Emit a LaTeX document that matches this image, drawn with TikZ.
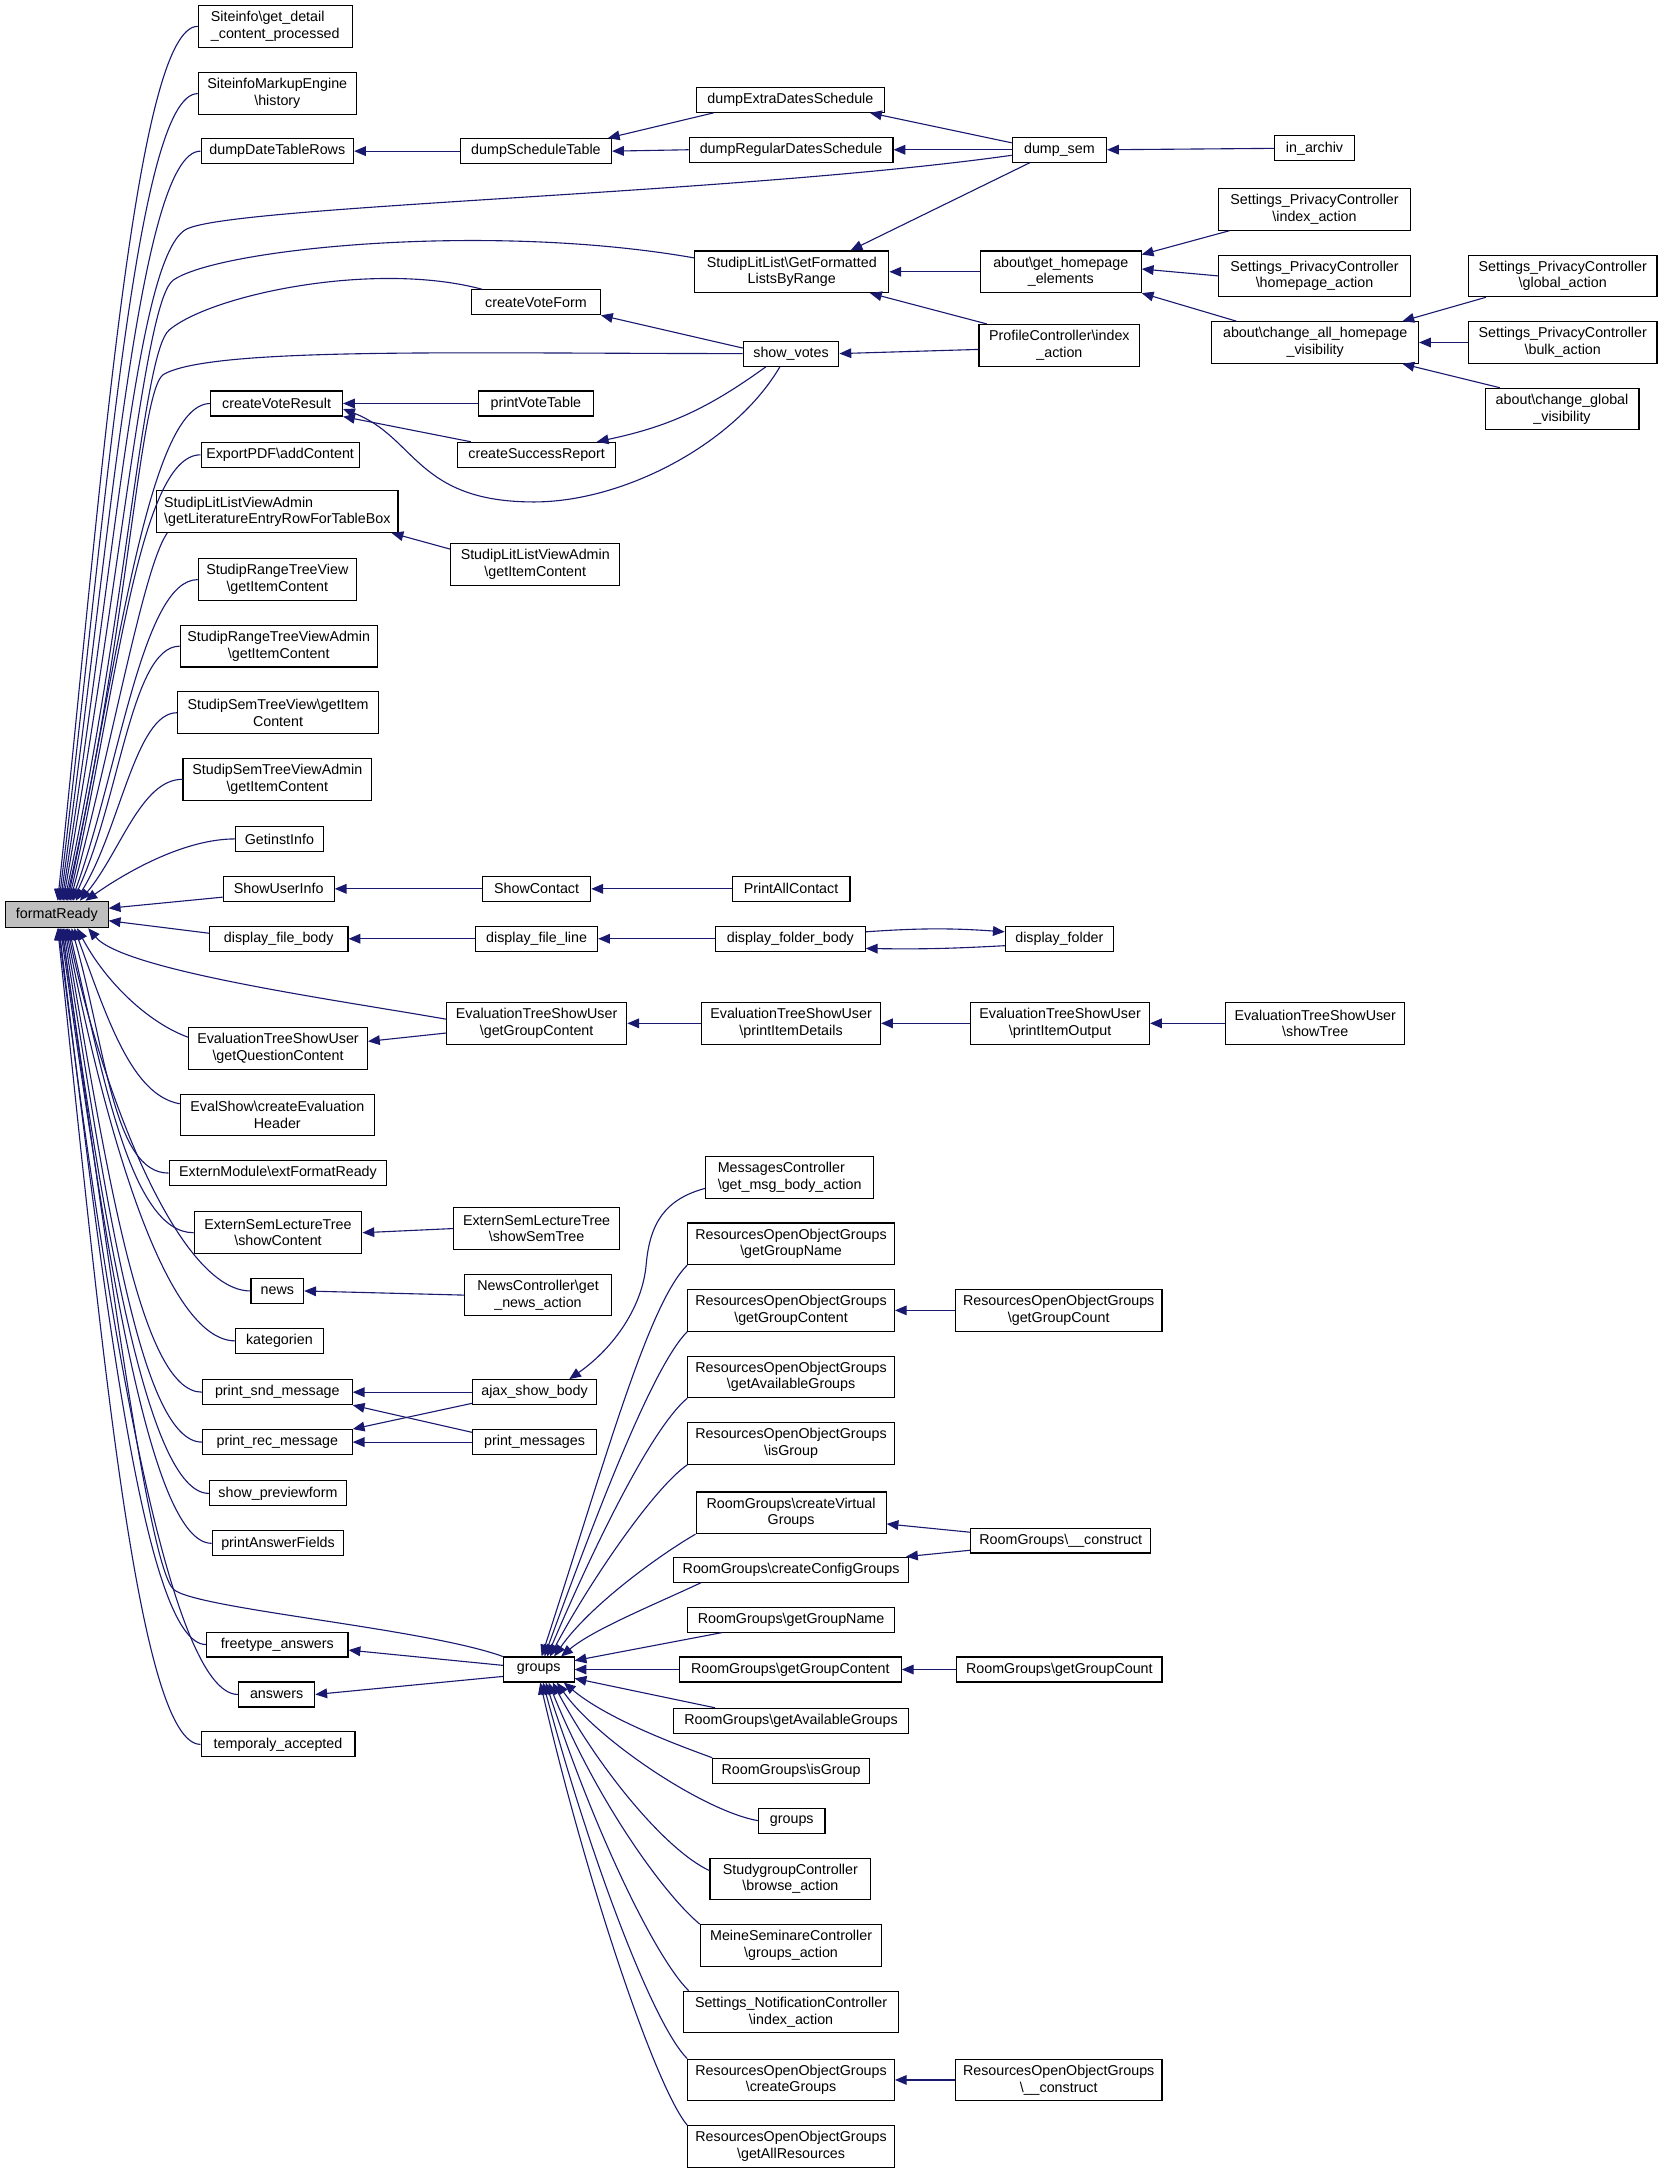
\documentclass[tikz,border=0pt]{standalone}
\usepackage{fontspec}
\setmainfont{Liberation Sans}
\usetikzlibrary{arrows.meta}
\definecolor{edgec}{RGB}{25,25,112}
\definecolor{frgray}{RGB}{191,191,191}
\tikzset{
  box/.style={draw=black, fill=white, line width=0.8pt, inner sep=1pt, align=center,
    font=\fontsize{10.3}{12}\selectfont},
  cb/.style={draw=edgec, line width=0.8pt, {Triangle[length=8.5pt,width=7pt]}-}
}
\newcommand\bx[6]{\node[box,minimum width=#4pt,minimum height=#5pt] (#1) at (#2,-#3) {#6};}
\newcommand\bxl[6]{\node[box,align=left,minimum width=#4pt,minimum height=#5pt] (#1) at (#2,-#3) {#6};}
\begin{document}
\begin{tikzpicture}[x=1pt,y=1pt]
\useasboundingbox (0,0) rectangle (1200,-1570);
\fill[white] (0,0) rectangle (1200,-1570);
% ---------- nodes ----------
\node[box,fill=frgray,minimum width=74pt,minimum height=19pt] (fr) at (41,-659.5) {formatReady};
% left column
\bxl{sc}{198.5}{19}{111}{30}{Siteinfo\textbackslash get\_detail\\\_content\_processed}
\bx{smh}{200}{67.5}{114}{30}{SiteinfoMarkupEngine\\\textbackslash history}
\bx{ddtr}{200}{109}{110}{18}{dumpDateTableRows}
\bx{cvr}{199.5}{291}{95}{18}{createVoteResult}
\bx{epdf}{202}{328}{114}{18}{ExportPDF\textbackslash addContent}
\bxl{sllva}{200}{369}{174}{30}{StudipLitListViewAdmin\\\textbackslash getLiteratureEntryRowForTableBox}
\bx{srtv}{200}{418}{114}{30}{StudipRangeTreeView\\\textbackslash getItemContent}
\bx{srtva}{201}{466}{142}{30}{StudipRangeTreeViewAdmin\\\textbackslash getItemContent}
\bx{sstv}{200.5}{514}{145}{30}{StudipSemTreeView\textbackslash getItem\\Content}
\bx{sstva}{200}{562}{136}{30}{StudipSemTreeViewAdmin\\\textbackslash getItemContent}
\bx{gii}{201.5}{605}{63}{18}{GetinstInfo}
\bx{sui}{201}{641}{80}{18}{ShowUserInfo}
\bx{dfb}{201}{677}{100}{18}{display\_file\_body}
\bx{etsq}{200.5}{756}{129}{30}{EvaluationTreeShowUser\\\textbackslash getQuestionContent}
\bx{esh}{200}{804}{140}{30}{EvalShow\textbackslash createEvaluation\\Header}
\bx{emx}{200.5}{846}{157}{18}{ExternModule\textbackslash extFormatReady}
\bx{eslt}{200.5}{889}{121}{30}{ExternSemLectureTree\\\textbackslash showContent}
\bx{news}{200}{931}{38}{18}{news}
\bx{kat}{201.5}{967}{63}{18}{kategorien}
\bx{psm}{200}{1004}{108}{18}{print\_snd\_message}
\bx{prm}{200}{1040}{108}{18}{print\_rec\_message}
\bx{spf}{200.5}{1077}{99}{18}{show\_previewform}
\bx{paf}{200.5}{1113}{95}{18}{printAnswerFields}
\bx{fta}{200}{1186}{102}{18}{freetype\_answers}
\bx{ans}{199.5}{1222}{55}{18}{answers}
\bx{tac}{200.5}{1258}{111}{18}{temporaly\_accepted}
% middle column
\bx{dst}{386.5}{109}{109}{18}{dumpScheduleTable}
\bx{cvf}{386.5}{218}{93}{18}{createVoteForm}
\bx{pvt}{386.5}{291}{83}{18}{printVoteTable}
\bx{csr}{387}{328}{114}{18}{createSuccessReport}
\bx{slg}{386}{407}{122}{30}{StudipLitListViewAdmin\\\textbackslash getItemContent}
\bx{sco}{387}{641}{78}{18}{ShowContact}
\bx{dfl}{387}{677}{88}{18}{display\_file\_line}
\bx{etsg}{387}{738}{130}{30}{EvaluationTreeShowUser\\\textbackslash getGroupContent}
\bx{esst}{387}{886}{120}{30}{ExternSemLectureTree\\\textbackslash showSemTree}
\bx{ncg}{388}{934}{106}{30}{NewsController\textbackslash get\\\_news\_action}
\bx{asb}{385.5}{1004}{89}{18}{ajax\_show\_body}
\bx{pms}{385.5}{1040}{89}{18}{print\_messages}
\bx{grp}{388.5}{1204}{51}{18}{groups}
% third column
\bx{deds}{570}{72}{136}{18}{dumpExtraDatesSchedule}
\bx{drds}{570.5}{108}{147}{18}{dumpRegularDatesSchedule}
\bx{slgf}{571}{196}{140}{30}{StudipLitList\textbackslash GetFormatted\\ListsByRange}
\bx{sv}{570.5}{255}{69}{18}{show\_votes}
\bx{pac}{570.5}{641}{85}{18}{PrintAllContact}
\bx{dfob}{570}{677}{108}{18}{display\_folder\_body}
\bx{etspd}{570.5}{738}{129}{30}{EvaluationTreeShowUser\\\textbackslash printItemDetails}
\bxl{mcg}{569.5}{849}{121}{30}{MessagesController\\\textbackslash get\_msg\_body\_action}
\bx{rgn}{570.5}{897}{149}{30}{ResourcesOpenObjectGroups\\\textbackslash getGroupName}
\bx{rgc}{570.5}{945}{149}{30}{ResourcesOpenObjectGroups\\\textbackslash getGroupContent}
\bx{rga}{570.5}{993}{149}{30}{ResourcesOpenObjectGroups\\\textbackslash getAvailableGroups}
\bx{rig}{570.5}{1041}{149}{30}{ResourcesOpenObjectGroups\\\textbackslash isGroup}
\bx{rcv}{570.5}{1091}{137}{30}{RoomGroups\textbackslash createVirtual\\Groups}
\bx{rcc}{570.5}{1132}{169}{18}{RoomGroups\textbackslash createConfigGroups}
\bx{rggn}{570.5}{1168}{149}{18}{RoomGroups\textbackslash getGroupName}
\bx{rggc}{570}{1204}{160}{18}{RoomGroups\textbackslash getGroupContent}
\bx{rgag}{570.5}{1241}{169}{18}{RoomGroups\textbackslash getAvailableGroups}
\bx{rgig}{570.5}{1277}{113}{18}{RoomGroups\textbackslash isGroup}
\bx{grpb}{571}{1313}{48}{18}{groups}
\bx{sgc}{570}{1355}{116}{30}{StudygroupController\\\textbackslash browse\_action}
\bx{msc}{570.5}{1403}{131}{30}{MeineSeminareController\\\textbackslash groups\_action}
\bx{snc}{570.5}{1451}{155}{30}{Settings\_NotificationController\\\textbackslash index\_action}
\bx{rcg}{570.5}{1500}{149}{30}{ResourcesOpenObjectGroups\\\textbackslash createGroups}
\bx{rgar}{570.5}{1548}{149}{30}{ResourcesOpenObjectGroups\\\textbackslash getAllResources}
% fourth column
\bx{dsem}{764}{108}{68}{18}{dump\_sem}
\bx{aghe}{765}{196}{116}{30}{about\textbackslash get\_homepage\\\_elements}
\bx{pci}{764}{249}{116}{30}{ProfileController\textbackslash index\\\_action}
\bx{dfo}{764}{677}{78}{18}{display\_folder}
\bx{etspo}{764.5}{738}{129}{30}{EvaluationTreeShowUser\\\textbackslash printItemOutput}
\bx{rgcnt}{763.5}{945}{149}{30}{ResourcesOpenObjectGroups\\\textbackslash getGroupCount}
\bx{rgcons}{765}{1111}{130}{18}{RoomGroups\textbackslash \_\_construct}
\bx{rggcnt}{764}{1204}{148}{18}{RoomGroups\textbackslash getGroupCount}
\bx{rcons}{763.5}{1500}{149}{30}{ResourcesOpenObjectGroups\\\textbackslash \_\_construct}
% fifth column
\bx{ina}{948}{107}{58}{18}{in\_archiv}
\bx{spci}{948}{151}{138}{30}{Settings\_PrivacyController\\\textbackslash index\_action}
\bx{spch}{948}{199}{138}{30}{Settings\_PrivacyController\\\textbackslash homepage\_action}
\bx{acah}{948.5}{247}{149}{30}{about\textbackslash change\_all\_homepage\\\_visibility}
\bx{etsst}{948.5}{738}{129}{30}{EvaluationTreeShowUser\\\textbackslash showTree}
% sixth column
\bx{spcg}{1127}{199}{136}{30}{Settings\_PrivacyController\\\textbackslash global\_action}
\bx{spcb}{1127}{247}{136}{30}{Settings\_PrivacyController\\\textbackslash bulk\_action}
\bx{acgv}{1126.5}{295}{111}{30}{about\textbackslash change\_global\\\_visibility}
% ---------- edges into formatReady (top) ----------
\draw[cb] ([xshift=38pt]fr.north west) to[out=84,in=180,out distance=300pt,in distance=45pt] (sc.west);
\draw[cb] ([xshift=39pt]fr.north west) to[out=83,in=180,out distance=270pt,in distance=45pt] (smh.west);
\draw[cb] ([xshift=40pt]fr.north west) to[out=82,in=180,out distance=250pt,in distance=45pt] (ddtr.west);
\draw[cb] ([xshift=41pt]fr.north west) to[out=81,in=205,out distance=250pt,in distance=40pt] (135,-165)
   to[out=25,in=188,out distance=40pt,in distance=200pt] ([yshift=-4pt]dsem.west);
\draw[cb] ([xshift=42pt]fr.north west) to[out=80,in=215,out distance=250pt,in distance=25pt] (125,-202)
   to[out=35,in=170,out distance=40pt,in distance=150pt] ([yshift=10pt]slgf.west);
\draw[cb] ([xshift=43pt]fr.north west) to[out=78,in=220,out distance=220pt,in distance=25pt] (122,-238)
   to[out=40,in=165,out distance=40pt,in distance=80pt] ([xshift=8pt]cvf.north west);
\draw[cb] ([xshift=44pt]fr.north west) to[out=77,in=210,out distance=200pt,in distance=20pt] (118,-270)
   to[out=30,in=180,out distance=40pt,in distance=200pt] (sv.west);
\draw[cb] ([xshift=45pt]fr.north west) to[out=78,in=180,out distance=170pt,in distance=45pt] (cvr.west);
\draw[cb] ([xshift=46pt]fr.north west) to[out=77,in=180,out distance=150pt,in distance=45pt] (epdf.west);
\draw[cb] ([xshift=47pt]fr.north west) to[out=75,in=235,out distance=120pt,in distance=30pt] ([xshift=8pt]sllva.south west);
\draw[cb] ([xshift=48pt]fr.north west) to[out=70,in=180,out distance=100pt,in distance=40pt] (srtv.west);
\draw[cb] ([xshift=49pt]fr.north west) to[out=65,in=180,out distance=80pt,in distance=35pt] (srtva.west);
\draw[cb] ([xshift=51pt]fr.north west) to[out=58,in=180,out distance=60pt,in distance=30pt] (sstv.west);
\draw[cb] ([xshift=54pt]fr.north west) to[out=50,in=180,out distance=45pt,in distance=30pt] (sstva.west);
\draw[cb] ([xshift=58pt]fr.north west) to[out=35,in=180,out distance=40pt,in distance=35pt] (gii.west);
% right side
\draw[cb] ([yshift=4.5pt]fr.east) -- ([yshift=-6pt]sui.west);
\draw[cb] ([yshift=-4.5pt]fr.east) -- ([yshift=4pt]dfb.west);
% bottom
\draw[cb] ([xshift=60pt]fr.south west) to[out=-50,in=170,out distance=40pt,in distance=80pt] ([yshift=3pt]etsg.west);
\draw[cb] ([xshift=52pt]fr.south west) to[out=-62,in=160,out distance=45pt,in distance=30pt] ([yshift=8pt]etsq.west);
\draw[cb] ([xshift=50pt]fr.south west) to[out=-70,in=170,out distance=70pt,in distance=35pt] ([yshift=8pt]esh.west);
\draw[cb] ([xshift=48pt]fr.south west) to[out=-74,in=180,out distance=90pt,in distance=40pt] (emx.west);
\draw[cb] ([xshift=46pt]fr.south west) to[out=-77,in=180,out distance=110pt,in distance=45pt] (eslt.west);
\draw[cb] ([xshift=45pt]fr.south west) to[out=-78,in=180,out distance=130pt,in distance=50pt] (news.west);
\draw[cb] ([xshift=44pt]fr.south west) to[out=-79,in=180,out distance=150pt,in distance=50pt] (kat.west);
\draw[cb] ([xshift=43pt]fr.south west) to[out=-80,in=180,out distance=170pt,in distance=45pt] (psm.west);
\draw[cb] ([xshift=42pt]fr.south west) to[out=-81,in=180,out distance=190pt,in distance=45pt] (prm.west);
\draw[cb] ([xshift=41pt]fr.south west) to[out=-82,in=180,out distance=210pt,in distance=45pt] (spf.west);
\draw[cb] ([xshift=40pt]fr.south west) to[out=-82,in=180,out distance=230pt,in distance=45pt] (paf.west);
\draw[cb] ([xshift=41pt]fr.south west) to[out=-82,in=135,out distance=250pt,in distance=25pt] (125,-1146)
   to[out=-45,in=160,out distance=20pt,in distance=60pt] (grp.north west);
\draw[cb] ([xshift=39pt]fr.south west) to[out=-83,in=180,out distance=260pt,in distance=45pt] (fta.west);
\draw[cb] ([xshift=38.5pt]fr.south west) to[out=-83,in=180,out distance=280pt,in distance=50pt] (ans.west);
\draw[cb] ([xshift=38pt]fr.south west) to[out=-84,in=180,out distance=300pt,in distance=45pt] (tac.west);
% ---------- other edges ----------
\draw[cb] (ddtr.east) -- (dst.west);
\draw[cb] ([xshift=-3pt]dst.north east) -- ([xshift=13pt]deds.south west);
\draw[cb] (dst.east) -- (drds.west);
\draw[cb] ([xshift=-11pt]deds.south east) -- ([yshift=5pt]dsem.west);
\draw[cb] (drds.east) -- (dsem.west);
\draw[cb] (dsem.east) -- (ina.west);
\draw[cb] ([xshift=-28pt]slgf.north east) -- ([xshift=13pt]dsem.south west);
\draw[cb] (slgf.east) -- (aghe.west);
\draw[cb] ([xshift=-14pt]slgf.south east) -- ([xshift=6pt]pci.north west);
\draw[cb] ([yshift=-3pt]aghe.north east) -- ([xshift=8pt]spci.south west);
\draw[cb] ([yshift=2pt]aghe.east) -- (spch.west);
\draw[cb] (aghe.south east) -- ([xshift=18pt]acah.north west);
\draw[cb] ([xshift=-12pt]acah.north east) -- ([xshift=13pt]spcg.south west);
\draw[cb] (acah.east) -- (spcb.west);
\draw[cb] ([xshift=-12pt]acah.south east) -- ([xshift=11pt]acgv.north west);
\draw[cb] (cvf.south east) -- ([yshift=4pt]sv.west);
\draw[cb] (sv.east) -- ([yshift=-3pt]pci.west);
\draw[cb] (cvr.east) -- (pvt.west);
\draw[cb] (cvr.south east) -- ([xshift=10pt]csr.north west);
\draw[cb] ([yshift=-4pt]cvr.east) .. controls (300,-315) and (300,-362) .. (385,-362)
   .. controls (450,-362) and (530,-320) .. ([xshift=-8pt]sv.south);
\draw[cb] ([xshift=-14pt]csr.north east) to[bend right=12] ([xshift=-18pt]sv.south);
\draw[cb] ([xshift=-5pt]sllva.south east) -- ([yshift=11pt]slg.west);
\draw[cb] (sui.east) -- (sco.west);
\draw[cb] (sco.east) -- (pac.west);
\draw[cb] (dfb.east) -- (dfl.west);
\draw[cb] (dfl.east) -- (dfob.west);
\draw[cb] ([yshift=5pt]dfo.west) to[bend right=4] ([yshift=5pt]dfob.east);
\draw[cb] ([yshift=-7pt]dfob.east) to[bend right=2] ([yshift=-5pt]dfo.west);
\draw[cb] ([yshift=5pt]etsq.east) -- ([yshift=-7pt]etsg.west);
\draw[cb] (etsg.east) -- (etspd.west);
\draw[cb] (etspd.east) -- (etspo.west);
\draw[cb] (etspo.east) -- (etsst.west);
\draw[cb] (eslt.east) -- (esst.west);
\draw[cb] (news.east) -- (ncg.west);
\draw[cb] (psm.east) -- (asb.west);
\draw[cb] (psm.south east) -- ([yshift=7pt]pms.west);
\draw[cb] (prm.north east) -- ([yshift=-8pt]asb.west);
\draw[cb] (prm.east) -- (pms.west);
\draw[cb] ([xshift=25pt]asb.north) to[out=35,in=-95,out distance=40pt,in distance=30pt] (466,-912)
   to[out=85,in=195,out distance=30pt,in distance=30pt] ([yshift=-8pt]mcg.west);
\draw[cb] ([yshift=-4pt]fta.east) -- ([yshift=3pt]grp.west);
\draw[cb] (ans.east) -- ([yshift=-5pt]grp.west);
% into groups
\draw[cb] ([xshift=28pt]grp.north west) to[out=72,in=225,out distance=150pt,in distance=40pt] (rgn.south west);
\draw[cb] ([xshift=30pt]grp.north west) to[out=70,in=225,out distance=110pt,in distance=35pt] (rgc.south west);
\draw[cb] ([xshift=32pt]grp.north west) to[out=67,in=220,out distance=80pt,in distance=35pt] (rga.south west);
\draw[cb] ([xshift=34pt]grp.north west) to[out=62,in=215,out distance=60pt,in distance=30pt] (rig.south west);
\draw[cb] ([xshift=37pt]grp.north west) to[out=55,in=210,out distance=45pt,in distance=30pt] (rcv.south west);
\draw[cb] ([xshift=42pt]grp.north west) to[out=40,in=205,out distance=30pt,in distance=40pt] ([xshift=20pt]rcc.south west);
\draw[cb] ([yshift=-3pt]grp.north east) -- ([xshift=25pt]rggn.south west);
\draw[cb] (grp.east) -- (rggc.west);
\draw[cb] ([yshift=3pt]grp.south east) -- ([xshift=30pt]rgag.north west);
\draw[cb] ([xshift=44pt]grp.south west) to[out=-40,in=160,out distance=40pt,in distance=30pt] (rgig.north west);
\draw[cb] ([xshift=39pt]grp.south west) to[out=-55,in=170,out distance=50pt,in distance=40pt] (grpb.west);
\draw[cb] ([xshift=36pt]grp.south west) to[out=-62,in=155,out distance=70pt,in distance=35pt] ([yshift=6pt]sgc.west);
\draw[cb] ([xshift=33pt]grp.south west) to[out=-68,in=140,out distance=90pt,in distance=35pt] (msc.north west);
\draw[cb] ([xshift=31pt]grp.south west) to[out=-72,in=135,out distance=110pt,in distance=35pt] ([xshift=4pt]snc.north west);
\draw[cb] ([xshift=29pt]grp.south west) to[out=-75,in=135,out distance=130pt,in distance=35pt] (rcg.north west);
\draw[cb] ([xshift=27pt]grp.south west) to[out=-77,in=130,out distance=150pt,in distance=35pt] (rgar.north west);
% further
\draw[cb] (rgc.east) -- (rgcnt.west);
\draw[cb] ([yshift=-8pt]rcv.east) -- ([yshift=6pt]rgcons.west);
\draw[cb] ([xshift=-2pt]rcc.north east) -- ([yshift=-7pt]rgcons.west);
\draw[cb] (rggc.east) -- (rggcnt.west);
\draw[cb] (rcg.east) -- (rcons.west);
\end{tikzpicture}
\end{document}
